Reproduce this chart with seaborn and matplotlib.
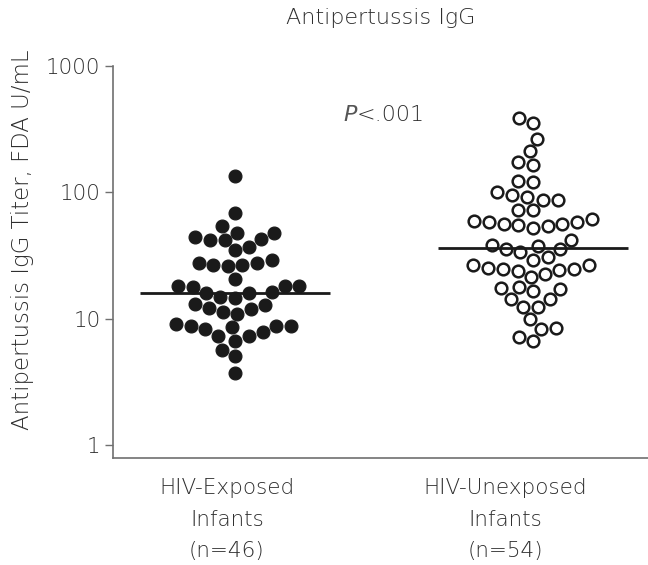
import numpy as np
import pandas as pd
import matplotlib
matplotlib.use("Agg")
import matplotlib.pyplot as plt
import matplotlib.transforms as mtransforms
import seaborn as sns

groups = ["HIV-Exposed\nInfants\n(n=46)", "HIV-Unexposed\nInfants\n(n=54)"]

exposed = [134, 69, 54, 48, 44, 42, 37, 35, 42, 43, 48,
           29, 27.7, 26.7, 25.9, 26.8, 27.8,
           18.3, 15.9, 18.3, 20.7, 17.9, 14.6, 13.1, 12.9, 14.8, 15.9, 18.3, 16.2,
           11.9, 10.9, 11.2, 12.1,
           8.3, 7.3, 8.8, 6.7, 8.8, 8.8, 7.3, 9.1, 7.9, 8.6,
           5.7, 5.1, 3.75]

unexposed = [357, 385, 264, 211, 164, 174, 121, 124,
             96, 87.5, 87.5, 92, 100, 73, 72.8,
             58, 56, 55, 61, 52, 59, 54, 56, 58,
             42, 37.5, 35.3, 33.6, 35.3, 38.5, 31, 29.4,
             25.2, 24.8, 24, 26.7, 21.3, 26.4, 22.6, 24.5, 24.8,
             17.7, 17.2, 14.3, 12.4, 12.4, 14.3, 16.5, 17.5,
             9.9, 8.3, 6.7, 7.2, 8.5]

geo_means = [15.9, 36.1]
yticks = [1, 10, 100, 1000]
ytick_labels = ["1", "10", "100", "1000"]

df = pd.DataFrame({
    "group": [groups[0]] * len(exposed) + [groups[1]] * len(unexposed),
    "titer": exposed + unexposed,
})

sns.set_style("white")
plt.rcParams["font.family"] = ["DejaVu Sans"]
plt.rcParams["font.weight"] = "light"
plt.rcParams["axes.titleweight"] = "light"
plt.rcParams["axes.labelweight"] = "light"
text_color = "#2e2e2e"
axis_color = "#707070"

fig = plt.figure(figsize=(6.48, 5.65), dpi=100)
ax = fig.add_axes([0.1744, 0.1894, 0.8256, 0.6938])
ax.set_yscale("log")

sns.swarmplot(data=df[df["group"] == groups[0]], x="group", y="titer", order=groups,
              color="#1a1a1a", edgecolor="#1a1a1a", linewidth=0.8, size=9.3, ax=ax)
sns.swarmplot(data=df[df["group"] == groups[1]], x="group", y="titer", order=groups,
              color="white", edgecolor="#1a1a1a", linewidth=1.8, size=8.4, ax=ax)

for i, gm in enumerate(geo_means):
    ax.hlines(gm, i - 0.32, i + 0.32, color="#1a1a1a", linewidth=2.0, zorder=5)

ax.set_ylim(0.79, 1000)
ax.set_xlim(-0.409, 1.386)
ax.set_yticks(yticks)
ax.set_yticklabels(ytick_labels)
ax.yaxis.set_minor_locator(matplotlib.ticker.NullLocator())
ax.tick_params(axis="y", which="major", left=True, length=6, width=1, color=axis_color,
               labelsize=15.5, labelcolor=text_color, pad=3)
ax.tick_params(axis="x", bottom=False, labelsize=15.5, labelcolor=text_color, pad=11)
shifts = [-8, -28]
for lab, dx in zip(ax.get_xticklabels(), shifts):
    lab.set_linespacing(1.72)
    lab.set_transform(lab.get_transform() +
                      mtransforms.ScaledTranslation(dx / 100, 0, fig.dpi_scale_trans))

for side in ["top", "right"]:
    ax.spines[side].set_visible(False)
for side in ["left", "bottom"]:
    ax.spines[side].set_color(axis_color)
    ax.spines[side].set_linewidth(1.2)

ax.set_xlabel("")
ax.set_ylabel("Antipertussis IgG Titer, FDA U/mL", fontsize=16.5, color=text_color)
ax.yaxis.set_label_coords(-0.148, 0.556)
ax.set_title("Antipertussis IgG", fontsize=16, color=text_color, pad=30)
ax.text(0.456, 0.875, "P", transform=ax.transAxes, fontsize=16, color="#555555",
        style="italic", ha="right", va="center")
ax.text(0.456, 0.875, "<.001", transform=ax.transAxes, fontsize=16, color=text_color,
        ha="left", va="center")

fig.savefig("out.png", dpi=100)
